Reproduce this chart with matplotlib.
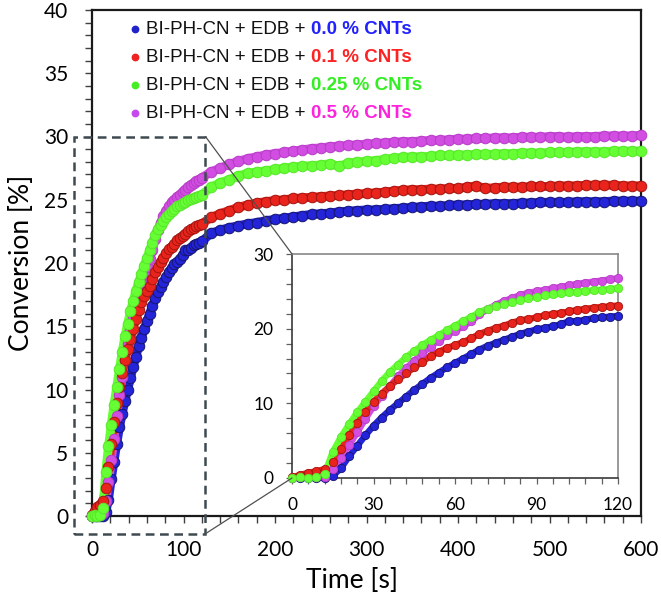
import numpy as np
import matplotlib
matplotlib.use("Agg")
import matplotlib.pyplot as plt
from matplotlib.ticker import MultipleLocator
from matplotlib.patches import Rectangle, ConnectionPatch

# ---------------- data ----------------
time_s = [0, 3, 6, 9, 12, 15, 18, 21, 24, 27, 30, 33, 36, 39, 42, 45, 48, 51, 54, 57,
          60, 63, 66, 69, 72, 75, 78, 81, 84, 87, 90, 93, 96, 99, 102, 105, 108, 111, 114, 117,
          120, 130, 140, 150, 160, 170, 180, 190, 200, 210, 220, 230, 240, 250, 260, 270, 280,
          290, 300, 310, 320, 330, 340, 350, 360, 370, 380, 390, 400, 410, 420, 430, 440, 450,
          460, 470, 480, 490, 500, 510, 520, 530, 540, 550, 560, 570, 580, 590, 600]

conv_00 = [0, 0, 0, 0, 0, 0.3, 1.3, 2.9, 4.3, 5.7, 7.0, 8.1, 9.1, 10.0, 10.9, 11.8, 12.6, 13.4, 14.1, 14.8,
           15.4, 16.0, 16.6, 17.2, 17.7, 18.1, 18.5, 18.9, 19.3, 19.6, 19.9, 20.1, 20.3, 20.6, 21.0, 21.0, 21.2, 21.4, 21.5, 21.6,
           21.7, 22.35, 22.6, 22.8, 22.95, 23.1, 23.2, 23.35, 23.45, 23.55, 23.65, 23.75, 23.85, 23.9, 23.95, 24.05, 24.1,
           24.15, 24.2, 24.2, 24.25, 24.3, 24.35, 24.4, 24.45, 24.5, 24.5, 24.55, 24.6, 24.6, 24.65, 24.65, 24.7, 24.7,
           24.7, 24.75, 24.75, 24.8, 24.8, 24.8, 24.8, 24.85, 24.85, 24.85, 24.85, 24.9, 24.9, 24.9, 24.9]

conv_01 = [0.1, 0.4, 0.7, 0.9, 1.2, 2.2, 3.9, 5.7, 7.4, 8.9, 10.2, 11.3, 12.3, 13.2, 14.0, 14.8, 15.6, 16.3, 16.9, 17.4,
           17.8, 18.2, 18.7, 19.3, 19.7, 20.1, 20.4, 20.8, 21.1, 21.3, 21.5, 21.8, 21.95, 22.1, 22.3, 22.5, 22.65, 22.8, 22.9, 23.0,
           23.1, 23.6, 23.9, 24.15, 24.4, 24.6, 24.75, 24.85, 24.95, 25.0, 25.1, 25.15, 25.2, 25.25, 25.3, 25.35, 25.4,
           25.45, 25.5, 25.55, 25.6, 25.7, 25.75, 25.8, 25.8, 25.85, 25.85, 25.9, 25.9, 26.0, 26.1, 25.9, 25.95, 26.0,
           26.0, 26.0, 26.05, 26.05, 26.05, 26.1, 26.1, 26.1, 26.15, 26.15, 26.15, 26.15, 26.1, 26.1, 26.1]

conv_025 = [0.0, 0.1, 0.0, 0.1, 0.6, 3.5, 5.5, 7.2, 8.8, 10.2, 11.6, 13.0, 14.2, 15.2, 16.2, 17.0, 17.8, 18.5, 19.1, 19.8,
            20.4, 21.0, 21.6, 22.2, 22.7, 23.0, 23.3, 23.6, 23.9, 24.1, 24.3, 24.5, 24.6, 24.75, 24.85, 24.95, 25.05, 25.15, 25.2, 25.3,
            25.4, 26.0, 26.35, 26.6, 26.9, 27.1, 27.2, 27.3, 27.4, 27.5, 27.6, 27.65, 27.7, 27.75, 27.85, 27.65, 27.9,
            28.0, 28.05, 28.1, 28.2, 28.3, 28.35, 28.4, 28.4, 28.45, 28.5, 28.5, 28.55, 28.55, 28.6, 28.6, 28.6, 28.65,
            28.65, 28.7, 28.7, 28.7, 28.75, 28.75, 28.75, 28.8, 28.8, 28.8, 28.8, 28.85, 28.85, 28.85, 28.85]

conv_05 = [0, 0.1, 0.1, 0.1, 0.2, 1.2, 2.7, 4.4, 6.1, 7.9, 9.6, 11.0, 12.3, 13.6, 14.7, 15.7, 16.7, 17.6, 18.4, 19.1,
           19.7, 20.3, 21.0, 21.9, 22.6, 23.2, 23.7, 24.1, 24.5, 24.8, 25.0, 25.2, 25.4, 25.6, 25.8, 26.0, 26.15, 26.3, 26.45, 26.6,
           26.75, 27.2, 27.5, 27.8, 28.05, 28.25, 28.4, 28.55, 28.65, 28.75, 28.85, 28.95, 29.05, 29.1, 29.2, 29.25, 29.3,
           29.35, 29.4, 29.45, 29.5, 29.55, 29.6, 29.6, 29.65, 29.7, 29.7, 29.75, 29.8, 29.8, 29.85, 29.85, 29.9, 29.9,
           29.9, 29.95, 29.95, 29.95, 30.0, 30.0, 29.95, 30.0, 30.0, 30.0, 30.05, 30.05, 30.05, 30.05, 30.1]

legend_prefix = "BI-PH-CN + EDB + "
legend_suffix = ["0.0 % CNTs", "0.1 % CNTs", "0.25 % CNTs", "0.5 % CNTs"]
x_label = "Time [s]"
y_label = "Conversion [%]"

# ---------------- styles ----------------
series = [  # draw order: blue, magenta, red, green
    (conv_00, "#2424d8", "#16166e"),
    (conv_05, "#d24ee2", "#b63cc6"),
    (conv_01, "#e8241c", "#a3150f"),
    (conv_025, "#66ff33", "#58e52c"),
]
legend_colors_marker = ["#2222cc", "#ee2222", "#44ee22", "#c44aee"]
legend_colors_text = ["#2222ff", "#ff2222", "#33ee22", "#ff22dd"]

tick_font = "Lato"
W, H = 661, 601
fig = plt.figure(figsize=(W / 100, H / 100), dpi=100)

def fx(px):
    return px / W

def fy(py):
    return 1 - py / H

# main axes
ax = fig.add_axes([fx(92), fy(516), fx(641) - fx(92), fy(10) - fy(516)])
t = np.array(time_s, dtype=float)
for vals, fc, ec in series:
    v = np.array(vals, dtype=float)
    ax.plot(t, v, color=fc, lw=6.4, solid_capstyle="round", clip_on=False, zorder=2)
    ax.plot(t, v, ls="none", marker="o", ms=7.6, mfc=fc, mec=ec, mew=0.7,
            clip_on=False, zorder=3)

ax.set_xlim(0, 600)
ax.set_ylim(0, 40)
ax.xaxis.set_major_locator(MultipleLocator(100))
ax.xaxis.set_minor_locator(MultipleLocator(20))
ax.yaxis.set_major_locator(MultipleLocator(5))
ax.yaxis.set_minor_locator(MultipleLocator(1))
ax.tick_params(which="both", direction="out", length=5, width=1.0, color="#404040")
ax.tick_params(which="major", labelsize=15, pad=12)
for lab in ax.get_xticklabels() + ax.get_yticklabels():
    lab.set_family(tick_font)
for s in ax.spines.values():
    s.set_linewidth(1.6)
    s.set_color("#1a1a1a")

fig.text(fx(352), fy(581), x_label, ha="center", va="center", fontsize=19, family=tick_font)
fig.text(fx(22), fy(263), y_label, ha="center", va="center", rotation=90, fontsize=19, family=tick_font)

# zoom rectangle
rect = Rectangle((-20, -1.4), 144, 31.4, fill=False, ec="#3e4a50", lw=1.8,
                 ls=(0, (3.5, 2.2)), clip_on=False, zorder=4)
ax.add_patch(rect)

# inset
axi = fig.add_axes([fx(292), fy(478), fx(618) - fx(292), fy(254) - fy(478)])
mask = t <= 120
for vals, fc, ec in series:
    v = np.array(vals, dtype=float)
    axi.plot(t[mask], v[mask], color=fc, lw=4.6, solid_capstyle="round", clip_on=False, zorder=2)
    axi.plot(t[mask], v[mask], ls="none", marker="o", ms=6.0, mfc=fc, mec=ec, mew=0.6,
             clip_on=False, zorder=3)
axi.set_xlim(0, 120)
axi.set_ylim(0, 30)
axi.xaxis.set_major_locator(MultipleLocator(30))
axi.xaxis.set_minor_locator(MultipleLocator(6))
axi.yaxis.set_major_locator(MultipleLocator(10))
axi.yaxis.set_minor_locator(MultipleLocator(2))
axi.tick_params(which="both", direction="out", length=4.5, width=0.9, color="#606060")
axi.tick_params(which="major", labelsize=12.5, pad=9)
for lab in axi.get_xticklabels() + axi.get_yticklabels():
    lab.set_family(tick_font)
for k, s in axi.spines.items():
    s.set_linewidth(1.2)
    s.set_color("#3a3a3a" if k in ("left", "bottom") else "#888888")

# connector lines
for (xa, ya), (xb, yb) in [((124, 30), (0, 30)), ((124, -1.4), (0, 0))]:
    cp = ConnectionPatch(xyA=(xa, ya), coordsA=ax.transData, xyB=(xb, yb), coordsB=axi.transData,
                         color="#505050", lw=0.9, zorder=5)
    fig.add_artist(cp)

# legend (manual, two-colour text)
rows_y = [29, 57, 85, 113]
for i, ry in enumerate(rows_y):
    fig.lines.append(plt.Line2D([fx(135)], [fy(ry)], transform=fig.transFigure, ls="none",
                                marker="o", ms=4.6, mfc=legend_colors_marker[i], mec=legend_colors_marker[i]))
    t1 = fig.text(fx(146), fy(ry), legend_prefix, ha="left", va="center", fontsize=13.5,
                  family="Liberation Sans", color="#111111")
    ax.annotate(legend_suffix[i], xy=(1, 0.5), xycoords=t1, ha="left", va="center",
                fontsize=13.5, family="Liberation Sans", fontweight="bold",
                color=legend_colors_text[i], annotation_clip=False)

fig.savefig("out.png", dpi=100)
